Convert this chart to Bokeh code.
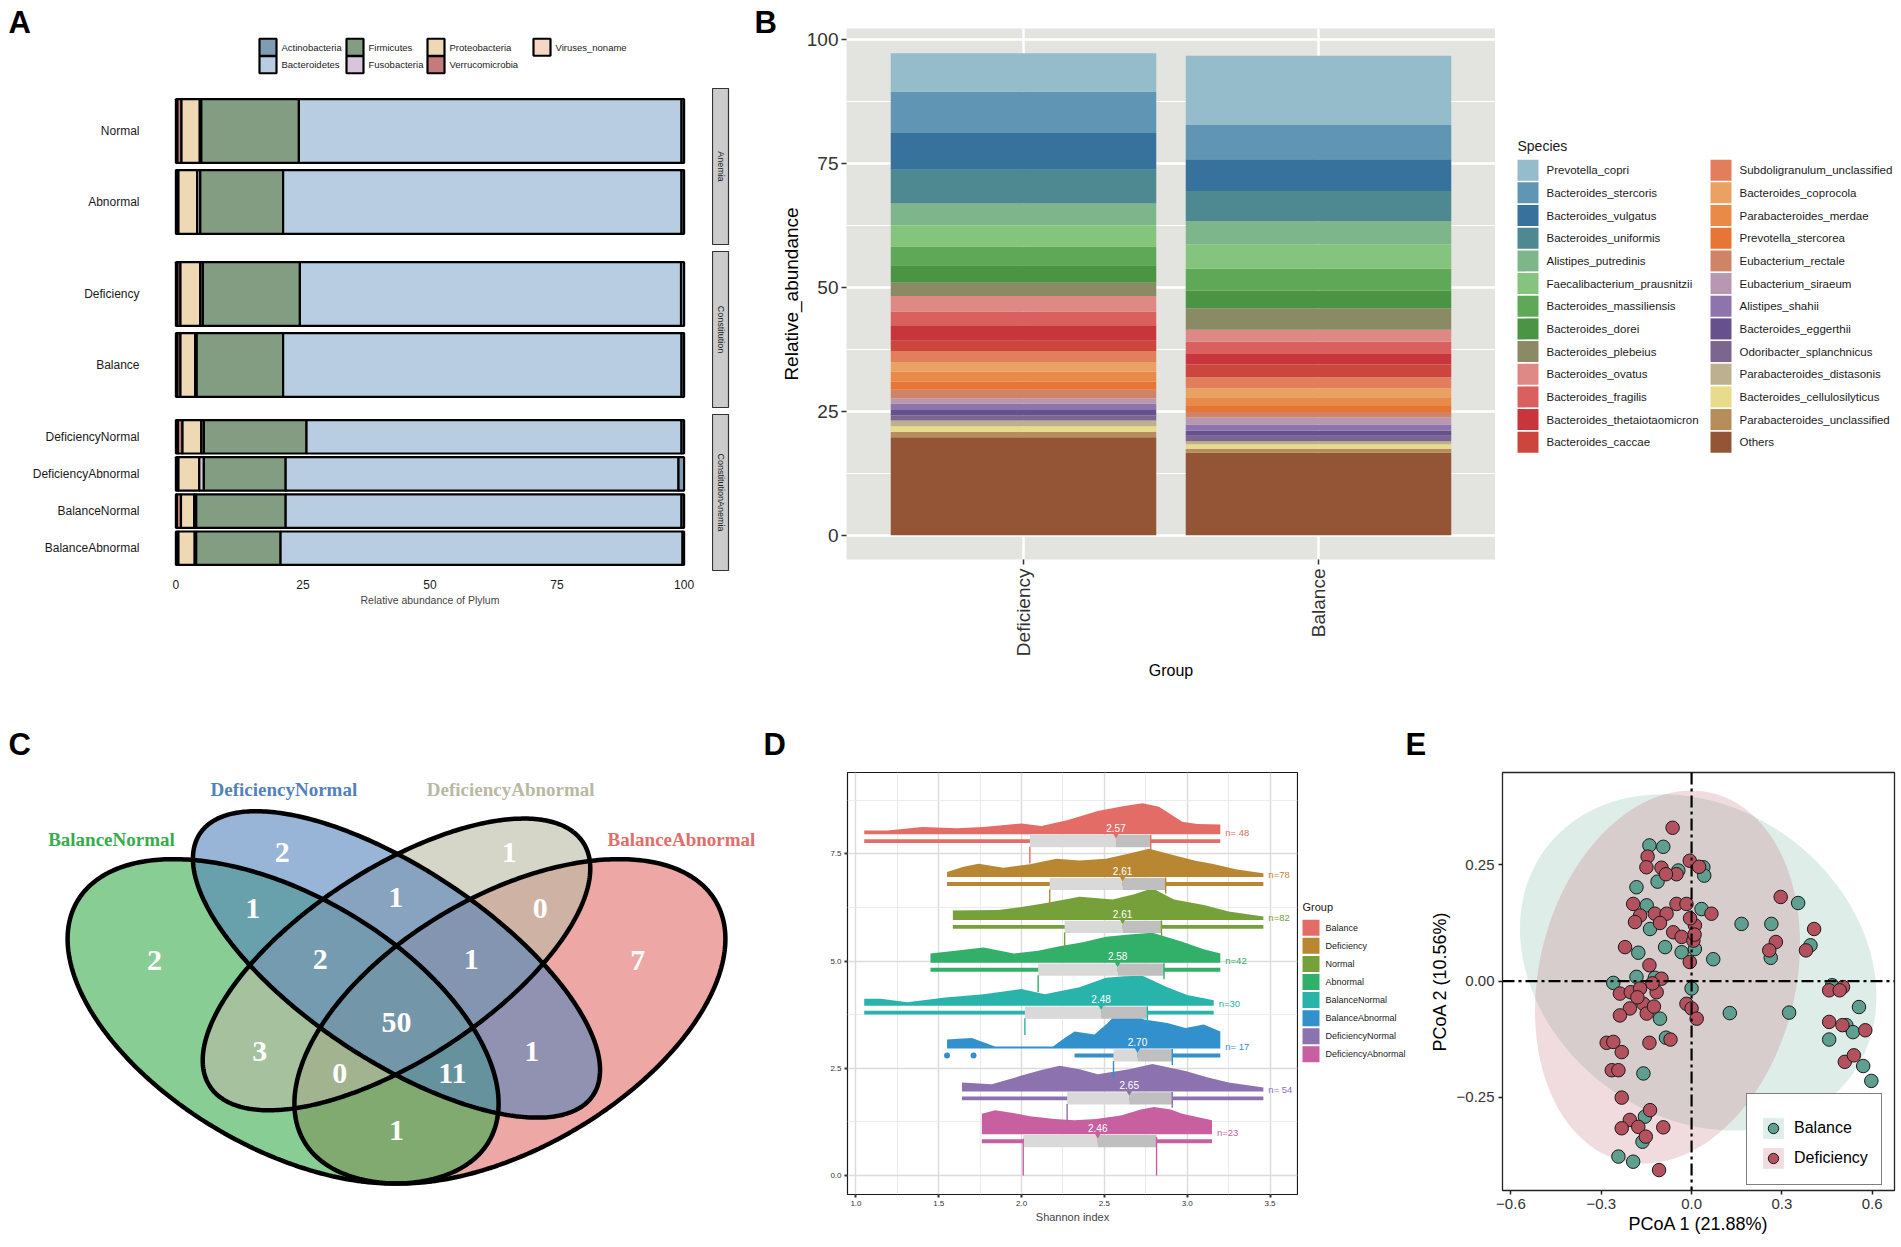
import numpy as np
from bokeh.plotting import figure
from bokeh.models import (ColumnDataSource, FactorRange, Range1d, Legend, LegendItem,
                          FixedTicker, Span, PrintfTickFormatter)
from bokeh.layouts import row, column
from bokeh.embed import file_html
from bokeh.resources import INLINE
from bokeh.core.properties import value

SANS = "Liberation Sans"
SERIF = "Liberation Serif"

# ================= Panel A data =================
a_groups = ["Normal", "Abnormal", "Deficiency", "Balance",
            "DeficiencyNormal", "DeficiencyAbnormal", "BalanceNormal", "BalanceAbnormal"]
a_facet_of_group = ["Anemia", "Anemia", "Constitution", "Constitution",
                    "ConstitutionAnemia", "ConstitutionAnemia", "ConstitutionAnemia", "ConstitutionAnemia"]
a_facets = ["Anemia", "Constitution", "ConstitutionAnemia"]
phyla = ["Actinobacteria", "Bacteroidetes", "Firmicutes", "Fusobacteria",
         "Proteobacteria", "Verrucomicrobia", "Viruses_noname"]
phyla_colors = ["#7f9cb5", "#b8cde1", "#839d83", "#d8c5db", "#efd9b4", "#c47b7b", "#f6d7c5"]
actinobacteria = [0.5, 0.5, 0.6, 0.5, 0.5, 1.1, 0.5, 0.3]
bacteroidetes = [75.3, 78.4, 75.0, 78.4, 73.8, 77.3, 77.9, 79.1]
firmicutes = [19.2, 16.3, 19.1, 17.0, 20.2, 16.1, 17.6, 16.6]
fusobacteria = [0.3, 0.6, 0.5, 0.3, 0.5, 0.9, 0.4, 0.3]
proteobacteria = [3.6, 3.7, 3.9, 2.9, 3.7, 4.1, 2.6, 3.2]
verrucomicrobia = [0.8, 0.1, 0.6, 0.6, 0.9, 0.1, 0.8, 0.1]
viruses_noname = [0.3, 0.4, 0.3, 0.3, 0.4, 0.4, 0.2, 0.4]
a_ticks = [0, 25, 50, 75, 100]

# ================= Panel B data =================
b_groups = ["Deficiency", "Balance"]
b_species = ["Prevotella_copri", "Bacteroides_stercoris", "Bacteroides_vulgatus", "Bacteroides_uniformis",
             "Alistipes_putredinis", "Faecalibacterium_prausnitzii", "Bacteroides_massiliensis",
             "Bacteroides_dorei", "Bacteroides_plebeius", "Bacteroides_ovatus", "Bacteroides_fragilis",
             "Bacteroides_thetaiotaomicron", "Bacteroides_caccae", "Subdoligranulum_unclassified",
             "Bacteroides_coprocola", "Parabacteroides_merdae", "Prevotella_stercorea",
             "Eubacterium_rectale", "Eubacterium_siraeum", "Alistipes_shahii", "Bacteroides_eggerthii",
             "Odoribacter_splanchnicus", "Parabacteroides_distasonis", "Bacteroides_cellulosilyticus",
             "Parabacteroides_unclassified", "Others"]
b_colors = ["#95bccb", "#6096b4", "#37729c", "#4e8890", "#7cb68a", "#84c47c", "#5ea857", "#4a9444",
            "#8a8a64", "#de8986", "#d9605f", "#c8353b", "#cd463e", "#e37e5c", "#eaa263", "#e98a48",
            "#e77636", "#cf8468", "#b898b0", "#8e74ac", "#66508e", "#7c6690", "#bcb08e", "#e8dc8a",
            "#b78d5c", "#945436"]
b_deficiency = [7.7, 8.4, 7.4, 6.8, 4.4, 4.3, 3.8, 3.5, 2.7, 3.1, 2.8, 3.1, 2.1, 2.2, 2.0, 2.0,
                1.6, 1.8, 1.0, 1.3, 1.1, 1.0, 1.2, 1.1, 1.1, 19.8]
b_balance = [14.0, 6.9, 6.4, 6.1, 4.7, 4.9, 4.4, 3.6, 4.3, 2.4, 2.5, 2.1, 2.6, 2.2, 1.8, 1.8,
             1.2, 1.1, 1.4, 1.3, 1.0, 1.1, 0.6, 0.9, 0.8, 16.7]
b_ticks = [0, 25, 50, 75, 100]

# ================= Panel C data =================
venn_sets = ["BalanceNormal", "DeficiencyNormal", "DeficiencyAbnormal", "BalanceAbnormal"]
venn_colors = ["#37ac4d", "#5382bb", "#b9b9a3", "#e16e69"]
venn_counts = [2, 2, 1, 7, 1, 1, 0, 2, 1, 50, 3, 1, 0, 11, 1]

# ================= Panel D data =================
d_groups = ["Balance", "Deficiency", "Normal", "Abnormal", "BalanceNormal", "BalanceAbnormal",
            "DeficiencyNormal", "DeficiencyAbnormal"]
d_colors = ["#e46c67", "#b98732", "#76a03a", "#32af69", "#28b4aa", "#3291cd", "#8c73af", "#c85fa0"]
d_pos = [8, 7, 6, 5, 4, 3, 2, 1]
d_n_labels = ["n= 48", "n=78", "n=82", "n=42", "n=30", "n= 17", "n= 54", "n=23"]
d_median = [2.57, 2.61, 2.61, 2.58, 2.48, 2.70, 2.65, 2.46]
d_q1 = [2.05, 2.17, 2.26, 2.10, 2.02, 2.555, 2.275, 2.01]
d_q3 = [2.78, 2.87, 2.845, 2.86, 2.76, 2.91, 2.91, 2.815]
d_whisker_lo = [1.05, 1.55, 1.585, 1.45, 1.05, 2.32, 1.64, 1.76]
d_whisker_hi = [3.20, 3.46, 3.46, 3.20, 3.16, 3.20, 3.46, 3.15]
d_dens_x = [
    [1.05, 1.19, 1.40, 1.61, 1.77, 2.00, 2.12, 2.28, 2.46, 2.62, 2.73, 2.83, 2.97, 3.06, 3.20],
    [1.55, 1.65, 1.74, 1.89, 2.05, 2.21, 2.35, 2.51, 2.65, 2.77, 2.92, 3.05, 3.15, 3.30, 3.46],
    [1.585, 1.86, 2.00, 2.14, 2.35, 2.55, 2.68, 2.79, 2.92, 3.10, 3.25, 3.46],
    [1.45, 1.60, 1.77, 1.955, 2.10, 2.23, 2.37, 2.51, 2.65, 2.79, 2.97, 3.10, 3.20],
    [1.05, 1.15, 1.31, 1.54, 1.77, 2.00, 2.14, 2.35, 2.51, 2.62, 2.73, 2.88, 3.00, 3.16],
    [1.55, 1.62, 1.70, 1.77, 1.84, 2.19, 2.26, 2.32, 2.44, 2.52, 2.60, 2.67, 2.74, 2.88, 2.99, 3.10, 3.20],
    [1.64, 1.82, 2.00, 2.12, 2.23, 2.35, 2.46, 2.65, 2.79, 2.99, 3.12, 3.25, 3.46],
    [1.76, 1.84, 1.95, 2.05, 2.20, 2.32, 2.45, 2.60, 2.72, 2.80, 2.90, 2.97, 3.15],
]
d_dens_h = [
    [0.09, 0.09, 0.17, 0.14, 0.17, 0.25, 0.19, 0.33, 0.54, 0.66, 0.72, 0.64, 0.29, 0.24, 0.23],
    [0.12, 0.24, 0.31, 0.22, 0.30, 0.43, 0.39, 0.43, 0.55, 0.66, 0.51, 0.38, 0.31, 0.18, 0.09],
    [0.22, 0.23, 0.30, 0.39, 0.54, 0.48, 0.60, 0.74, 0.48, 0.35, 0.20, 0.08],
    [0.22, 0.28, 0.36, 0.22, 0.28, 0.39, 0.48, 0.61, 0.66, 0.70, 0.49, 0.32, 0.22],
    [0.16, 0.16, 0.08, 0.19, 0.27, 0.39, 0.27, 0.43, 0.65, 0.69, 0.70, 0.43, 0.25, 0.13],
    [0.21, 0.23, 0.25, 0.15, 0.05, 0.05, 0.25, 0.40, 0.33, 0.60, 0.91, 0.80, 0.68, 0.60, 0.48, 0.56, 0.40],
    [0.21, 0.17, 0.37, 0.50, 0.60, 0.52, 0.40, 0.52, 0.64, 0.48, 0.33, 0.21, 0.09],
    [0.48, 0.56, 0.50, 0.42, 0.36, 0.33, 0.36, 0.44, 0.58, 0.64, 0.58, 0.48, 0.33],
]
d_outlier_x = [1.55, 1.71]
d_outlier_group = "BalanceAbnormal"
d_xticks = [1.0, 1.5, 2.0, 2.5, 3.0, 3.5]
d_yticks = [0.0, 2.5, 5.0, 7.5]

# ================= Panel E data =================
balance_pc1 = [-0.140, -0.094, -0.044, -0.113, 0.039, 0.042, -0.183, -0.149, 0.033, -0.138, -0.177, -0.088,
               -0.033, 0.011, 0.072, 0.166, 0.354, 0.265, 0.263, 0.395, -0.183, -0.122, -0.260, -0.105,
               0.000, 0.127, 0.324, 0.467, 0.556, 0.457, 0.514, 0.536, 0.570, 0.597, -0.085, -0.160,
               -0.155, -0.163, -0.243, -0.194]
balance_pc2 = [0.292, 0.289, 0.238, 0.214, 0.245, 0.227, 0.202, 0.163, 0.155, 0.112, 0.061, 0.073,
               0.062, 0.069, 0.047, 0.123, 0.168, 0.123, 0.050, 0.077, 0.009, 0.007, -0.004, -0.081,
               -0.016, -0.069, -0.068, -0.009, -0.056, -0.126, -0.095, -0.110, -0.183, -0.215, -0.122, -0.199,
               -0.292, -0.346, -0.378, -0.389]
deficiency_pc1 = [-0.063, -0.146, -0.100, -0.050, -0.006, 0.025, -0.194, -0.171, -0.188, -0.122,
                  -0.083, -0.050, -0.017, 0.066, 0.011, -0.061, -0.221, -0.033, 0.006, -0.006,
                  0.296, 0.280, 0.258, 0.407, 0.380, -0.140, -0.100, -0.238, -0.202, -0.171,
                  -0.116, -0.160, -0.205, -0.238, -0.149, -0.017, 0.000, 0.017, 0.457, 0.503,
                  0.492, 0.457, 0.501, 0.577, 0.509, 0.539, -0.070, -0.140, -0.282, -0.260,
                  -0.232, -0.265, -0.243, -0.232, -0.138, -0.205, -0.232, -0.177, -0.094, -0.152,
                  -0.108, -0.150, -0.085, -0.005, -0.105, 0.010, -0.130, -0.180, -0.125]
deficiency_pc2 = [0.330, 0.268, 0.244, 0.230, 0.259, 0.246, 0.166, 0.141, 0.127, 0.145,
                  0.145, 0.166, 0.166, 0.145, 0.120, 0.105, 0.073, 0.095, 0.087, 0.041,
                  0.181, 0.084, 0.066, 0.112, 0.066, 0.034, 0.005, -0.027, -0.024, -0.016,
                  -0.024, -0.049, -0.059, -0.074, -0.070, -0.049, -0.059, -0.081, -0.020, -0.013,
                  -0.020, -0.088, -0.095, -0.106, -0.174, -0.160, -0.126, -0.133, -0.133, -0.131,
                  -0.153, -0.192, -0.192, -0.251, -0.278, -0.299, -0.317, -0.314, -0.315, -0.335,
                  -0.407, 0.245, 0.230, 0.135, 0.125, 0.100, -0.005, -0.035, -0.055]
e_xticks = [-0.6, -0.3, 0.0, 0.3, 0.6]
e_yticks = [-0.25, 0.0, 0.25]


def base_fig(**kw):
    return figure(toolbar_location=None, output_backend="svg", align="start", **kw)


def canvas_fig(w, h, top=0, bottom=0):
    # a figure whose data units are pixels (headers and legend boxes); y measured up from canvas bottom
    p = base_fig(x_range=Range1d(0, w), y_range=Range1d(bottom, h - top),
                 frame_width=w, frame_height=h - top - bottom,
                 min_border_left=0, min_border_right=0, min_border_top=top, min_border_bottom=bottom,
                 x_axis_location=None, y_axis_location=None, outline_line_color=None)
    p.grid.visible = False
    return p


def letters(p, names, xs, y):
    p.text(x=xs, y=[y] * len(xs), text=names, text_font=value(SANS), text_font_style="bold",
           text_font_size="31px", text_color="black", text_align="left", text_baseline="middle")


def key_legend(p, names, colors, xs, ys, size, gap, font_size, line=None, line_width=0):
    p.rect(x=[x + size[0] / 2 for x in xs], y=ys, width=size[0], height=size[1],
           fill_color=colors, line_color=line, line_width=line_width)
    p.text(x=[x + size[0] + gap for x in xs], y=ys, text=names, text_font=value(SANS),
           text_font_size=font_size, text_color="#1a1a1a", text_align="left", text_baseline="middle")


# ================= Panel A =================
a_values = dict(zip(phyla, [actinobacteria, bacteroidetes, firmicutes, fusobacteria,
                            proteobacteria, verrucomicrobia, viruses_noname]))
a_color = dict(zip(phyla, phyla_colors))
stack_order = phyla[::-1]

A_COL_W = 777
A_HEAD_H = 88
a_head = canvas_fig(A_COL_W, A_HEAD_H)
letters(a_head, ["A", "B"], [8, 754], A_HEAD_H - 21.5)
a_leg_cols = [["Actinobacteria", "Bacteroidetes"], ["Firmicutes", "Fusobacteria"],
              ["Proteobacteria", "Verrucomicrobia"], ["Viruses_noname"]]
a_leg_x = [259, 346, 427, 533]
lx_all, ly_all, ln_all, lc_all = [], [], [], []
for cols, lx in zip(a_leg_cols, a_leg_x):
    for r, ph in enumerate(cols):
        lx_all.append(lx)
        ly_all.append(A_HEAD_H - (38 + 8.75 + r * 17.5))
        ln_all.append(ph)
        lc_all.append(a_color[ph])
key_legend(a_head, ln_all, lc_all, lx_all, ly_all, (17, 17), 5, "9.5px", line="black", line_width=2.2)

a_bottoms = [7, 7, 120]
a_rows = [a_head]
for k, fac in enumerate(a_facets):
    groups = [g for g, f in zip(a_groups, a_facet_of_group) if f == fac]
    data = {"group": groups}
    for ph in phyla:
        data[ph] = [a_values[ph][a_groups.index(g)] for g in groups]
    src = ColumnDataSource(data)
    show_x = (k == 2)
    p = base_fig(y_range=FactorRange(factors=groups[::-1], range_padding=0.1, range_padding_units="absolute"),
                 x_range=Range1d(-5, 105), frame_width=559, frame_height=156,
                 min_border_left=150, min_border_right=3, min_border_top=0,
                 min_border_bottom=a_bottoms[k],
                 x_axis_location="below" if show_x else None,
                 outline_line_color=None, background_fill_color="white")
    p.hbar_stack(stack_order, y="group", height=0.9, source=src,
                 fill_color=[a_color[ph] for ph in stack_order],
                 line_color="black", line_width=2.2)
    p.grid.visible = False
    p.yaxis.axis_line_color = None
    p.yaxis.major_tick_line_color = None
    p.yaxis.minor_tick_line_color = None
    p.yaxis.major_label_text_font = SANS
    p.yaxis.major_label_text_font_size = "12px"
    p.yaxis.major_label_text_color = "#1a1a1a"
    p.yaxis.major_label_standoff = 5
    if show_x:
        p.xaxis.ticker = FixedTicker(ticks=a_ticks)
        p.xaxis.axis_line_color = None
        p.xaxis.major_tick_line_color = None
        p.xaxis.minor_tick_line_color = None
        p.xaxis.major_label_standoff = 3
        p.xaxis.major_label_text_font = SANS
        p.xaxis.major_label_text_font_size = "12px"
        p.xaxis.major_label_text_color = "#1a1a1a"
        p.xaxis.axis_label = "Relative abundance of Plylum"
        p.xaxis.axis_label_text_font = SANS
        p.xaxis.axis_label_text_font_size = "10.5px"
        p.xaxis.axis_label_text_font_style = "normal"
        p.xaxis.axis_label_standoff = 2
    s = base_fig(x_range=Range1d(0, 1), y_range=Range1d(0, 1), frame_width=16, frame_height=156,
                 min_border_left=0, min_border_right=A_COL_W - 712 - 16, min_border_top=0,
                 min_border_bottom=a_bottoms[k], x_axis_location=None, y_axis_location=None,
                 background_fill_color="#cccccc", outline_line_color="#333333", outline_line_width=1.2)
    s.grid.visible = False
    s.text(x=[0.5], y=[0.5], text=[fac], angle=-np.pi / 2, text_align="center", text_baseline="middle",
           text_font=value(SANS), text_font_size="9px", text_color="#1a1a1a")
    a_rows.append(row(p, s, align="start"))
a_col = column(*a_rows, align="start")

# ================= Panel B =================
B_TOP, B_FRAME_H, B_BOTTOM = 28, 531, 131
b_data = {"group": b_groups}
for sp, dv, bv in zip(b_species, b_deficiency, b_balance):
    b_data[sp] = [dv, bv]
b_src = ColumnDataSource(b_data)
pB = base_fig(x_range=FactorRange(factors=b_groups, range_padding=0.1, range_padding_units="absolute"),
              y_range=Range1d(-4.87, 102.3), frame_width=649, frame_height=B_FRAME_H,
              min_border_left=841 - A_COL_W, min_border_right=0, min_border_top=B_TOP,
              min_border_bottom=B_BOTTOM, background_fill_color="#e3e3df", outline_line_color=None)
pB.vbar_stack(b_species[::-1], x="group", width=0.9, source=b_src,
              fill_color=b_colors[::-1], line_color=None)
pB.yaxis.ticker = FixedTicker(ticks=b_ticks, minor_ticks=[12.5, 37.5, 62.5, 87.5])
pB.ygrid.grid_line_color = "white"
pB.ygrid.grid_line_width = 2.4
pB.ygrid.minor_grid_line_color = "white"
pB.ygrid.minor_grid_line_width = 1.2
pB.xgrid.grid_line_color = "white"
pB.xgrid.grid_line_width = 2.4
for ax in (pB.xaxis, pB.yaxis):
    ax.axis_line_color = None
    ax.major_tick_line_color = "#333333"
    ax.major_tick_line_width = 1.5
    ax.major_tick_in = 0
    ax.major_tick_out = 5
    ax.minor_tick_line_color = None
    ax.major_label_text_font = SANS
    ax.major_label_text_font_size = "19px"
    ax.major_label_text_color = "#333333"
    ax.axis_label_text_font = SANS
    ax.axis_label_text_font_style = "normal"
    ax.axis_label_text_color = "black"
pB.yaxis.major_label_standoff = 3
pB.yaxis.axis_label = "Relative_abundance"
pB.yaxis.axis_label_text_font_size = "19px"
pB.yaxis.axis_label_standoff = 2
pB.xaxis.major_label_orientation = np.pi / 2
pB.xaxis.major_label_standoff = 4
pB.xaxis.axis_label = "Group"
pB.xaxis.axis_label_text_font_size = "16px"
pB.xaxis.axis_label_standoff = 3

B_LEG_H = B_TOP + B_FRAME_H + B_BOTTOM
b_leg_fig = canvas_fig(409, B_LEG_H, top=B_TOP, bottom=B_BOTTOM)
b_col_x = [22, 215]
bx_all, by_all = [], []
for i in range(len(b_species)):
    col, r = divmod(i, 13)
    bx_all.append(b_col_x[col])
    by_all.append(B_LEG_H - (169.7 + r * 22.67))
key_legend(b_leg_fig, b_species, b_colors, bx_all, by_all, (21, 21), 8, "11.5px")
b_leg_fig.text(x=[22], y=[B_LEG_H - 145], text=["Species"], text_font=value(SANS), text_font_size="14px",
               text_color="#1a1a1a", text_align="left", text_baseline="middle")

# ================= bottom header (C, D, E letters) =================
BOT_HEAD_H = 80
bot_head = canvas_fig(1899, BOT_HEAD_H)
letters(bot_head, ["C", "D", "E"], [8, 763, 1405], BOT_HEAD_H - 54)

# ================= Panel C (Venn) =================
ROW2_TOP = 2
venn_ellipses = {"BalanceNormal": (0.35, 0.47, 0.35, 0.20, 135),
                 "DeficiencyNormal": (0.50, 0.57, 0.35, 0.15, 135),
                 "DeficiencyAbnormal": (0.50, 0.57, 0.33, 0.15, 45),
                 "BalanceAbnormal": (0.65, 0.47, 0.35, 0.20, 45)}
venn_draw_order = ["BalanceAbnormal", "BalanceNormal", "DeficiencyAbnormal", "DeficiencyNormal"]
venn_count_pos = [(0.180, 0.577), (0.349, 0.767), (0.649, 0.767), (0.819, 0.577),
                  (0.310, 0.668), (0.499, 0.688), (0.690, 0.668), (0.399, 0.579),
                  (0.599, 0.579), (0.500, 0.468), (0.319, 0.417), (0.679, 0.417),
                  (0.425, 0.378), (0.574, 0.378), (0.500, 0.278)]
venn_name_pos = [(0.123, 0.790), (0.351, 0.877), (0.651, 0.877), (0.877, 0.790)]


def venn_ellipse(cx, cy, a, b, rot):
    t = np.linspace(0, 2 * np.pi, 361)
    th = np.deg2rad(rot)
    return (cx + a * np.cos(t) * np.cos(th) - b * np.sin(t) * np.sin(th),
            cy + a * np.cos(t) * np.sin(th) + b * np.sin(t) * np.cos(th))


pC = base_fig(x_range=Range1d(-0.0238, 1.0582), y_range=Range1d(0.076, 0.9073),
              frame_width=818, frame_height=475 - ROW2_TOP, min_border_left=0, min_border_right=0,
              min_border_top=ROW2_TOP, min_border_bottom=0,
              x_axis_location=None, y_axis_location=None, outline_line_color=None)
pC.grid.visible = False
vcol = dict(zip(venn_sets, venn_colors))
for nm in venn_draw_order:
    ex, ey = venn_ellipse(*venn_ellipses[nm])
    pC.patch(ex, ey, fill_color=vcol[nm], fill_alpha=0.6, line_color=None)
for nm in venn_draw_order:
    ex, ey = venn_ellipse(*venn_ellipses[nm])
    pC.line(ex, ey, line_color="black", line_width=4.5)
pC.text(x=[q[0] for q in venn_count_pos], y=[q[1] for q in venn_count_pos],
        text=[str(c) for c in venn_counts], text_font=value(SERIF), text_font_style="bold",
        text_font_size="30px", text_color="white", text_align="center", text_baseline="middle")
name_src = ColumnDataSource(dict(x=[q[0] for q in venn_name_pos], y=[q[1] for q in venn_name_pos],
                                 t=venn_sets, c=venn_colors))
pC.text(x="x", y="y", text="t", text_color="c", source=name_src, text_font=value(SERIF),
        text_font_style="bold", text_font_size="19px", text_align="center", text_baseline="middle")

# ================= Panel D (raincloud) =================
pD = base_fig(x_range=Range1d(0.949, 3.666), y_range=Range1d(-0.443, 9.40),
              frame_width=450, frame_height=422, min_border_left=29, min_border_right=1,
              min_border_top=ROW2_TOP, min_border_bottom=51,
              outline_line_color="#1a1a1a", outline_line_width=1.2)
pD.xaxis.ticker = FixedTicker(ticks=d_xticks, minor_ticks=[1.25, 1.75, 2.25, 2.75, 3.25])
pD.yaxis.ticker = FixedTicker(ticks=d_yticks, minor_ticks=[1.25, 3.75, 6.25, 8.75])
pD.xaxis.formatter = PrintfTickFormatter(format="%.1f")
pD.yaxis.formatter = PrintfTickFormatter(format="%.1f")
pD.grid.grid_line_color = "#dcdcdc"
pD.grid.grid_line_width = 1.5
pD.grid.minor_grid_line_color = "#e9e9e9"
pD.grid.minor_grid_line_width = 0.9
for ax in (pD.xaxis, pD.yaxis):
    ax.axis_line_color = None
    ax.major_tick_line_color = "#333333"
    ax.major_tick_line_width = 2
    ax.major_tick_in = 0
    ax.major_tick_out = 3
    ax.minor_tick_line_color = None
    ax.major_label_text_font = SANS
    ax.major_label_text_font_size = "8px"
    ax.major_label_text_color = "#333333"
    ax.major_label_standoff = 2
pD.xaxis.axis_label = "Shannon index"
pD.xaxis.axis_label_text_font = SANS
pD.xaxis.axis_label_text_font_size = "11px"
pD.xaxis.axis_label_text_font_style = "normal"
pD.xaxis.axis_label_standoff = 2

d_xs, d_ys = [], []
for i in range(len(d_groups)):
    base = d_pos[i] - 0.04
    xs = [d_dens_x[i][0]] + list(d_dens_x[i]) + [d_dens_x[i][-1]]
    ys = [base] + [base + h for h in d_dens_h[i]] + [base]
    d_xs.append(xs)
    d_ys.append(ys)
dens_src = ColumnDataSource(dict(xs=d_xs, ys=d_ys, color=d_colors))
pD.patches("xs", "ys", source=dens_src, fill_color="color", line_color=None)
box_y = [p - 0.2 for p in d_pos]
pD.hbar(y=box_y, left=d_whisker_lo, right=d_whisker_hi, height=0.09, fill_color=d_colors, line_color=None)
pD.hbar(y=box_y, left=d_q1, right=d_median, height=0.285, fill_color="#d9d9d9", line_color=None)
pD.hbar(y=box_y, left=d_median, right=d_q3, height=0.285, fill_color="#bfbfbf", line_color=None)
last = len(d_pos) - 1
q1_top = [p - (0.14 if i == last else 0.33) for i, p in enumerate(d_pos)]
q1_bot = [0.0 if i == last else p - 0.72 for i, p in enumerate(d_pos)]
q3_top = [p - (0.10 if i == last else 0.05) for i, p in enumerate(d_pos)]
q3_bot = [0.0 if i == last else p - 0.42 for i, p in enumerate(d_pos)]
pD.segment(x0=d_q1, y0=q1_top, x1=d_q1, y1=q1_bot, line_color=d_colors, line_width=1.4)
pD.segment(x0=d_q3, y0=q3_top, x1=d_q3, y1=q3_bot, line_color=d_colors, line_width=1.4)
pD.scatter(x=d_median, y=[p - 0.06 for p in d_pos], marker="inverted_triangle", size=6,
           fill_color=d_colors, line_color=None)
pD.text(x=d_median, y=[p + 0.11 for p in d_pos], text=["%.2f" % m for m in d_median],
        text_color="white", text_font=value(SANS), text_font_size="10px",
        text_align="center", text_baseline="middle")
pD.text(x=[dx[-1] + 0.03 for dx in d_dens_x], y=[p + 0.01 for p in d_pos], text=d_n_labels,
        text_color=d_colors, text_font=value(SANS), text_font_size="9.5px",
        text_align="left", text_baseline="middle")
oi = d_groups.index(d_outlier_group)
pD.scatter(x=d_outlier_x, y=[d_pos[oi] - 0.2] * len(d_outlier_x), size=6,
           fill_color=d_colors[oi], line_color=None)

D_LEG_H = 475
d_leg_fig = canvas_fig(120, D_LEG_H, top=ROW2_TOP, bottom=51)
key_legend(d_leg_fig, d_groups, d_colors, [4] * len(d_groups),
           [D_LEG_H - (157.3 + i * 18.07) for i in range(len(d_groups))], (17, 16), 6, "9px")
d_leg_fig.text(x=[4], y=[D_LEG_H - 136.7], text=["Group"], text_font=value(SANS), text_font_size="11px",
               text_color="#1a1a1a", text_align="left", text_baseline="middle")

# ================= Panel E (PCoA) =================
e_ellipses = {"Balance": (0.022, 0.04, 0.592, 0.362, np.arccos(-0.2)),
              "Deficiency": (-0.08, 0.0085, 0.44, 0.4015, np.arccos(0.18))}


def pcoa_ellipse(cx, cy, w, h, phi):
    t = np.linspace(0, 2 * np.pi, 241)
    return cx + w * np.cos(t), cy + h * np.cos(t - phi)


pE = base_fig(x_range=Range1d(-0.628, 0.674), y_range=Range1d(-0.451, 0.449),
              frame_width=392, frame_height=418, min_border_left=84, min_border_right=5,
              min_border_top=ROW2_TOP, min_border_bottom=55,
              outline_line_color="#222222", outline_line_width=1.3)
pE.grid.visible = False
bx, by = pcoa_ellipse(*e_ellipses["Balance"])
dx, dy = pcoa_ellipse(*e_ellipses["Deficiency"])
r_eb = pE.patch(bx, by, fill_color="#5fa591", fill_alpha=0.2, line_color=None)
r_ed = pE.patch(dx, dy, fill_color="#b4505a", fill_alpha=0.2, line_color=None)
r_pb = pE.scatter(balance_pc1, balance_pc2, size=13.5, fill_color="#5e9f90",
                  line_color="#1a1a1a", line_width=1)
r_pd = pE.scatter(deficiency_pc1, deficiency_pc2, size=13.5, fill_color="#b3525e",
                  line_color="#1a1a1a", line_width=1)
pE.add_layout(Span(location=0, dimension="height", line_color="black", line_width=2.2, line_dash="12 4 3 4"))
pE.add_layout(Span(location=0, dimension="width", line_color="black", line_width=2.2, line_dash="12 4 3 4"))
pE.xaxis.ticker = FixedTicker(ticks=e_xticks)
pE.yaxis.ticker = FixedTicker(ticks=e_yticks)
pE.xaxis.major_label_overrides = {-0.6: "\u22120.6", -0.3: "\u22120.3", 0.0: "0.0", 0.3: "0.3", 0.6: "0.6"}
pE.yaxis.major_label_overrides = {-0.25: "\u22120.25", 0.0: "0.00", 0.25: "0.25"}
for ax in (pE.xaxis, pE.yaxis):
    ax.axis_line_color = None
    ax.major_tick_line_color = "#222222"
    ax.major_tick_line_width = 1.5
    ax.major_tick_in = 0
    ax.major_tick_out = 4
    ax.minor_tick_line_color = None
    ax.major_label_text_font = SANS
    ax.major_label_text_font_size = "15px"
    ax.major_label_text_color = "#333333"
    ax.major_label_standoff = 4
    ax.axis_label_text_font = SANS
    ax.axis_label_text_font_size = "18px"
    ax.axis_label_text_font_style = "normal"
    ax.axis_label_text_color = "black"
    ax.axis_label_standoff = 4
pE.xaxis.axis_label = "PCoA 1 (21.88%)"
pE.yaxis.axis_label = "PCoA 2 (10.56%)"
pE.xaxis.axis_label_standoff = 2
pE.add_layout(Legend(items=[LegendItem(label="Balance", renderers=[r_eb, r_pb]),
                            LegendItem(label="Deficiency", renderers=[r_ed, r_pd])],
                     location=(244, 5), orientation="vertical", glyph_width=26, glyph_height=26,
                     spacing=4, padding=13, label_standoff=8, margin=0, title=" ",
                     title_text_font_size="5px", title_standoff=2,
                     label_text_font=SANS, label_text_font_size="16px", label_text_color="black",
                     border_line_color="black", border_line_width=1.5,
                     background_fill_color="white", background_fill_alpha=1))

page = column(row(a_col, pB, b_leg_fig, align="start"), bot_head,
              row(pC, pD, d_leg_fig, pE, align="start"), align="start")
open("out.html", "w").write(file_html(page, INLINE))
